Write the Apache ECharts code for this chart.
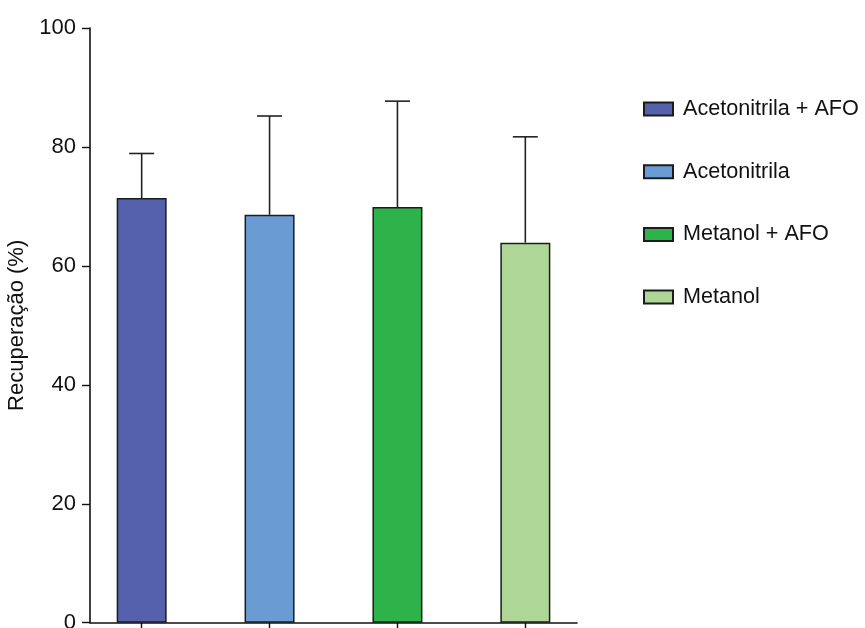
<!DOCTYPE html>
<html>
<head>
<meta charset="utf-8">
<script src="https://cdn.jsdelivr.net/npm/echarts@6/dist/echarts.min.js"></script>
<style>
  html, body { margin: 0; padding: 0; background: #fff; }
  #chart { width: 865px; height: 628px; }
</style>
</head>
<body>
<div id="chart"></div>
<script>
// Recovery (%) per extraction solvent, mean with upper SD bar
const categories = ['Acetonitrila + AFO', 'Acetonitrila', 'Metanol + AFO', 'Metanol'];
const meanValues = [71.4, 68.6, 69.9, 63.9];
const sdValues = [7.5, 16.6, 17.8, 17.8];
const barColors = ['#5661AD', '#6A9BD3', '#2EB34B', '#AED696'];
const yTicks = [0, 20, 40, 60, 80, 100];

const FONT = '"Liberation Sans", Arial, sans-serif';
const chart = echarts.init(document.getElementById('chart'));

const barSeries = categories.map((name, i) => ({
  name: name,
  type: 'bar',
  barWidth: 50,
  barGap: '-100%',
  itemStyle: { color: barColors[i], borderColor: '#1c1c1c', borderWidth: 1.5 },
  data: [[i, meanValues[i]]],
  z: 2
}));

const errorSeries = {
  type: 'custom',
  name: 'sd',
  silent: true,
  z: 3,
  data: meanValues.map((m, i) => [i, m, m + sdValues[i]]),
  renderItem: function (params, api) {
    const x = api.value(0);
    const top = api.coord([x, api.value(1)]);
    const hi = api.coord([x, api.value(2)]);
    const capHalf = 12.5;
    const style = { stroke: '#222', lineWidth: 1.6 };
    return {
      type: 'group',
      children: [
        { type: 'line', shape: { x1: top[0], y1: top[1], x2: hi[0], y2: hi[1] }, style: style },
        { type: 'line', shape: { x1: hi[0] - capHalf, y1: hi[1], x2: hi[0] + capHalf, y2: hi[1] }, style: style }
      ]
    };
  }
};

chart.setOption({
  backgroundColor: '#fff',
  animation: false,
  grid: { left: 90, top: 28, width: 487, height: 594.7, outerBoundsMode: 'none', containLabel: false },
  legend: {
    orient: 'vertical',
    left: 638,
    top: 93,
    itemWidth: 29,
    itemHeight: 13,
    itemGap: 40.7,
    icon: 'rect',
    data: categories,
    textStyle: { fontFamily: FONT, fontSize: 21.6, color: '#111', padding: [0, 0, 0, 5] }
  },
  xAxis: {
    type: 'value',
    min: -0.404,
    max: 3.404,
    axisLine: { show: true, onZero: false, lineStyle: { color: '#111', width: 1.6 } },
    axisTick: { show: true, length: 6, customValues: [0, 1, 2, 3], lineStyle: { color: '#111', width: 1.4 } },
    axisLabel: { show: false },
    splitLine: { show: false }
  },
  yAxis: {
    type: 'value',
    min: 0,
    max: 100,
    interval: 20,
    name: 'Recuperação (%)',
    nameLocation: 'middle',
    nameGap: 62,
    nameTextStyle: { fontFamily: FONT, fontSize: 22, color: '#111' },
    axisLine: { show: true, onZero: false, lineStyle: { color: '#111', width: 1.6 } },
    axisTick: { show: true, length: 8, customValues: yTicks, lineStyle: { color: '#111', width: 1.4 } },
    axisLabel: { margin: 14, fontFamily: FONT, fontSize: 22, color: '#111', customValues: yTicks },
    splitLine: { show: false }
  },
  series: barSeries.concat([errorSeries])
});
</script>
</body>
</html>
